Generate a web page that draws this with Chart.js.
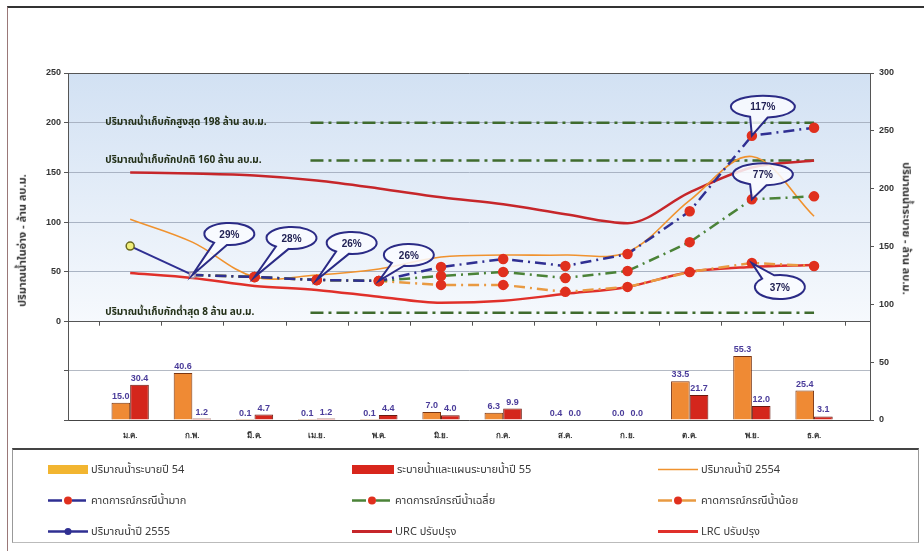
<!DOCTYPE html>
<html>
<head>
<meta charset="utf-8">
<script src="https://cdn.jsdelivr.net/npm/chart.js@4.4.1/dist/chart.umd.min.js"></script>
<style>
  body { margin: 0; background: #fff; width: 924px; height: 551px; position: relative; overflow: hidden;
         font-family: "Noto Sans Thai", Tahoma, "DejaVu Sans", "Noto Sans", sans-serif; }
  #frame { position: absolute; left: 7px; top: 6px; width: 917px; height: 545px;
           border-top: 2px solid #333; border-left: 1px solid #9a7878; }
  #wrap { position: absolute; left: 0; top: 0; width: 924px; height: 450px; }
  .axtitle { position: absolute; font-size: 11px; font-weight: bold; color: #333; white-space: nowrap; }
  #legend { position: absolute; left: 12px; top: 448px; width: 905px; height: 92px;
            border-top: 2px solid #444; border-left: 1px solid #999; border-right: 1px solid #999; border-bottom: 1px solid #bbb; }
  .item { position: absolute; display: flex; align-items: center; font-size: 11px; color: #3a3a3a; white-space: nowrap; }
  .item svg { margin-right: 3px; }
</style>
</head>
<body>
<div id="frame"></div>
<div id="wrap"><canvas id="chart" width="924" height="450"></canvas></div>
<div class="axtitle" id="ltitle">ปริมาณน้ำในอ่าง - ล้าน ลบ.ม.</div>
<div class="axtitle" id="rtitle">ปริมาณน้ำระบาย - ล้าน ลบ.ม.</div>
<div id="legend"></div>
<script>
// months and values
const months = ['ม.ค.', 'ก.พ.', 'มี.ค.', 'เม.ย.', 'พ.ค.', 'มิ.ย.', 'ก.ค.', 'ส.ค.', 'ก.ย.', 'ต.ค.', 'พ.ย.', 'ธ.ค.'];
const release54 = [15.0, 40.6, 0.1, 0.1, 0.1, 7.0, 6.3, 0.4, 0.0, 33.5, 55.3, 25.4];
const release55 = [30.4, 1.2, 4.7, 1.2, 4.4, 4.0, 9.9, 0.0, 0.0, 21.7, 12.0, 3.1];
const storage2554 = [103, 80, 45, 47, 53, 65, 67, 67, 70, 122, 166, 106];
const storage2555 = [76, 47, null, null, null, null, null, null, null, null, null, null];
const forecastHigh = [null, 47, 45, 42, 41, 55, 63, 56, 68, 111, 187, 195];
const forecastAvg = [null, 47, 45, 42, 41, 46, 50, 44, 51, 80, 123, 126];
const forecastLow = [null, 47, 45, 42, 41, 37, 37, 30, 35, 50, 59, 56];
const urc = [150, 149, 147, 142, 134, 125, 118, 108, 99, 130, 155, 162];
const lrc = [49, 44, 36, 32, 25, 19, 21, 28, 35, 50, 55, 57];
const leftTicks = [0, 50, 100, 150, 200, 250];
const rightTicks = [0, 50, 100, 150, 200, 250, 300];

// storage levels: [value, label]
const levels = [
  [200, 'ปริมาณน้ำเก็บกักสูงสุด 198 ล้าน ลบ.ม.'],
  [162, 'ปริมาณน้ำเก็บกักปกติ 160 ล้าน ลบ.ม.'],
  [9, 'ปริมาณน้ำเก็บกักต่ำสุด 8 ล้าน ลบ.ม.']
];
const levelStart = 2.9;

// percentage callouts: dataset key, month index, text
const callouts = [
  ['high', 1, '29%'], ['high', 2, '28%'], ['high', 3, '26%'], ['high', 4, '26%'],
  ['high', 10, '117%'], ['avg', 10, '77%'], ['low', 10, '37%']
];
const calloutStyle = [
  { dx: 37, dy: -41, rx: 25, ry: 11 }, { dx: 37, dy: -39, rx: 25, ry: 11 },
  { dx: 35, dy: -37, rx: 25, ry: 11 }, { dx: 30, dy: -26, rx: 25, ry: 11 },
  { dx: 11, dy: -29, rx: 32, ry: 11 }, { dx: 11, dy: -25, rx: 30, ry: 11 },
  { dx: 28, dy: 24, rx: 25, ry: 12 }
];

const navy = '#2f2f92';
const green = '#4b8338';
const lowOrange = '#e99a42';
const dotRed = '#e0301e';

function fcRadius(arr) {
  return arr.map((v, i) => i < 2 ? 0 : 4);
}

const plotBackground = {
  id: 'plotBackground',
  beforeDraw(chart) {
    const { ctx, chartArea } = chart;
    const ys = chart.scales.y;
    const g = ctx.createLinearGradient(0, ys.top, 0, ys.bottom);
    g.addColorStop(0, '#d2e1f3');
    g.addColorStop(1, '#f6f9fd');
    ctx.save();
    ctx.fillStyle = g;
    ctx.fillRect(chartArea.left, ys.top, chartArea.right - chartArea.left, ys.bottom - ys.top);
    ctx.restore();
  }
};

const decorations = {
  id: 'decorations',
  afterDatasetsDraw(chart) {
    const { ctx } = chart;
    const xs = chart.scales.x;
    const ys = chart.scales.y;
    ctx.save();

    // category tick marks under the upper plot
    ctx.strokeStyle = '#555';
    ctx.lineWidth = 1;
    for (let i = 0; i <= months.length; i++) {
      const px = Math.round(xs.getPixelForValue(i - 0.5)) + 0.5;
      ctx.beginPath();
      ctx.moveTo(px, ys.bottom);
      ctx.lineTo(px, ys.bottom + 4);
      ctx.stroke();
    }

    // storage level labels
    ctx.fillStyle = '#233018';
    ctx.font = 'bold 10px "Noto Sans Thai", Tahoma, "DejaVu Sans", sans-serif';
    ctx.textBaseline = 'alphabetic';
    ctx.textAlign = 'left';
    for (const [v, text] of levels) {
      ctx.fillText(text, xs.getPixelForValue(-0.4), ys.getPixelForValue(v) + 2, 200);
    }

    // bar value labels
    ctx.fillStyle = '#4a3c9a';
    ctx.font = 'bold 9px "Liberation Sans", Arial, sans-serif';
    ctx.textAlign = 'center';
    ctx.textBaseline = 'bottom';
    chart.data.datasets.forEach((ds, di) => {
      if (ds.type !== 'bar') return;
      chart.getDatasetMeta(di).data.forEach((bar, i) => {
        ctx.fillText(ds.data[i].toFixed(1), bar.x, bar.y - 2);
      });
    });

    // callouts
    callouts.forEach(([key, idx, text], n) => {
      const di = chart.data.datasets.findIndex(d => d.key === key);
      const pt = chart.getDatasetMeta(di).data[idx];
      const st = calloutStyle[n];
      const cx = pt.x + st.dx, cy = pt.y + st.dy;
      const th = Math.atan2(-st.dy / st.ry, -st.dx / st.rx);
      const d = 0.28;
      ctx.beginPath();
      ctx.ellipse(cx, cy, st.rx, st.ry, 0, th + d, th - d + Math.PI * 2);
      ctx.lineTo(pt.x, pt.y);
      ctx.closePath();
      ctx.fillStyle = 'rgba(250,252,255,0.85)';
      ctx.fill();
      ctx.strokeStyle = '#2b2b86';
      ctx.lineWidth = 2;
      ctx.stroke();
      ctx.fillStyle = '#222255';
      ctx.font = 'bold 10px "Liberation Sans", Arial, sans-serif';
      ctx.textAlign = 'center';
      ctx.textBaseline = 'middle';
      ctx.fillText(text, cx, cy + 1);
    });
    ctx.restore();
  }
};

const lineBase = { type: 'line', yAxisID: 'y', fill: false, pointHoverRadius: 0 };

const datasets = [
  Object.assign({}, lineBase, {
    key: 'y2555', label: 'ปริมาณน้ำปี 2555', data: storage2555, borderColor: navy, borderWidth: 2,
    pointRadius: [4, 3], pointBackgroundColor: ['#f0ee7a', '#f4e2e6'], pointBorderColor: ['#6b6a22', '#a494a8'],
    pointBorderWidth: 1.5, tension: 0
  }),
  Object.assign({}, lineBase, {
    key: 'high', label: 'คาดการณ์กรณีน้ำมาก', data: forecastHigh, borderColor: navy, borderWidth: 2.5,
    borderDash: [11, 5, 2, 5], pointRadius: fcRadius(forecastHigh), pointBackgroundColor: dotRed,
    pointBorderColor: dotRed, tension: 0
  }),
  Object.assign({}, lineBase, {
    key: 'avg', label: 'คาดการณ์กรณีน้ำเฉลี่ย', data: forecastAvg, borderColor: green, borderWidth: 2.5,
    borderDash: [11, 5, 2, 5], pointRadius: fcRadius(forecastAvg), pointBackgroundColor: dotRed,
    pointBorderColor: dotRed, tension: 0
  }),
  Object.assign({}, lineBase, {
    key: 'low', label: 'คาดการณ์กรณีน้ำน้อย', data: forecastLow, borderColor: lowOrange, borderWidth: 2.5,
    borderDash: [11, 5, 2, 5], pointRadius: fcRadius(forecastLow), pointBackgroundColor: dotRed,
    pointBorderColor: dotRed, tension: 0
  }),
  Object.assign({}, lineBase, {
    key: 'y2554', label: 'ปริมาณน้ำปี 2554', data: storage2554, borderColor: '#f0922e', borderWidth: 1.6,
    pointRadius: 0, tension: 0.35
  }),
  Object.assign({}, lineBase, {
    key: 'urc', label: 'URC ปรับปรุง', data: urc, borderColor: '#c6262a', borderWidth: 2.5,
    pointRadius: 0, cubicInterpolationMode: 'monotone'
  }),
  Object.assign({}, lineBase, {
    key: 'lrc', label: 'LRC ปรับปรุง', data: lrc, borderColor: '#e0302a', borderWidth: 2.5,
    pointRadius: 0, cubicInterpolationMode: 'monotone'
  })
];

levels.forEach(([v], i) => {
  datasets.push(Object.assign({}, lineBase, {
    key: 'level' + i, label: '', data: [{ x: levelStart, y: v }, { x: months.length - 1, y: v }],
    borderColor: '#3f6b2e', borderWidth: 2.5, borderDash: [13, 5, 3, 5], pointRadius: 0
  }));
});

datasets.push({
  type: 'bar', key: 'r54', label: 'ปริมาณน้ำระบายปี 54', data: release54, yAxisID: 'y2',
  backgroundColor: '#ef8a34', borderColor: '#7a3612', borderWidth: 1, barPercentage: 1, categoryPercentage: 0.6
});
datasets.push({
  type: 'bar', key: 'r55', label: 'ระบายน้ำและแผนระบายน้ำปี 55', data: release55, yAxisID: 'y2',
  backgroundColor: '#d4261c', borderColor: '#6a1a10', borderWidth: 1, barPercentage: 1, categoryPercentage: 0.6
});

const tickFont = { size: 9, weight: 'bold', family: '"Liberation Sans", Arial, sans-serif' };

const chart = new Chart(document.getElementById('chart'), {
  type: 'bar',
  data: { labels: months.map((m, i) => i), datasets: datasets },
  options: {
    responsive: false,
    animation: false,
    layout: { padding: { top: 73, left: 0, right: 0, bottom: 0 } },
    plugins: { legend: { display: false }, tooltip: { enabled: false } },
    scales: {
      x: {
        type: 'linear', min: -1, max: 11.9, offset: false,
        grid: { display: false },
        border: { color: '#444' },
        ticks: { font: { size: 8, weight: 'bold' }, color: '#333', padding: 3,
                 callback: (v) => months[v] === undefined ? '' : months[v] },
        afterBuildTicks: (s) => { s.ticks = months.map((m, i) => ({ value: i })); },
        afterFit: (s) => { s.height = 30; }
      },
      y: {
        position: 'left', stack: 'left', stackWeight: 248, weight: 1,
        min: 0, max: 250,
        afterBuildTicks: (s) => { s.ticks = leftTicks.map(v => ({ value: v })); },
        ticks: { font: tickFont, color: '#333', padding: 3 },
        grid: { color: (c) => (c.tick.value === 0 || c.tick.value === 250) ? '#555' : '#a9b3c3',
                tickLength: 4, tickColor: '#555' },
        border: { color: '#555' },
        afterFit: (s) => { s.width = 68; }
      },
      yb: {
        position: 'left', stack: 'left', stackWeight: 98, weight: 0,
        min: 0, max: 2,
        ticks: { stepSize: 1, display: false },
        grid: { color: (c) => c.tick.value === 2 ? '#555' : '#b4bac4', tickLength: 4, tickColor: '#555' },
        border: { color: '#555' },
        afterFit: (s) => { s.width = 68; }
      },
      y2: {
        position: 'right', min: 0, max: 300,
        afterBuildTicks: (s) => { s.ticks = rightTicks.map(v => ({ value: v })); },
        ticks: { font: tickFont, color: '#333', padding: 5 },
        grid: { drawOnChartArea: false, tickLength: 4, tickColor: '#555' },
        border: { color: '#555' },
        afterFit: (s) => { s.width = 54; }
      }
    }
  },
  plugins: [plotBackground, decorations]
});

// axis titles placed beside the axes
const lt = document.getElementById('ltitle');
lt.style.left = (22 - lt.offsetWidth / 2) + 'px';
lt.style.top = (240 - lt.offsetHeight / 2) + 'px';
lt.style.transform = 'rotate(-90deg)';
const rt = document.getElementById('rtitle');
rt.style.left = (906 - rt.offsetWidth / 2) + 'px';
rt.style.top = (228 - rt.offsetHeight / 2) + 'px';
rt.style.transform = 'rotate(90deg)';

// legend: three columns, three rows
const legendItems = [
  { key: 'r54', kind: 'box', color: '#f2b530', w: 40 },
  { key: 'r55', kind: 'box', color: '#d8261c', w: 42 },
  { key: 'y2554', kind: 'line', color: '#f0922e', w: 40, lw: 1.5 },
  { key: 'high', kind: 'dash', color: navy, w: 40 },
  { key: 'avg', kind: 'dash', color: green, w: 40 },
  { key: 'low', kind: 'dash', color: lowOrange, w: 40 },
  { key: 'y2555', kind: 'dot', color: navy, w: 40 },
  { key: 'urc', kind: 'line', color: '#c6262a', w: 40, lw: 3 },
  { key: 'lrc', kind: 'line', color: '#e0302a', w: 40, lw: 3 }
];
const colX = [35, 339, 645];
const rowY = [18, 49, 80];
const legend = document.getElementById('legend');
legendItems.forEach((it, n) => {
  const ds = datasets.find(d => d.key === it.key);
  let svg = '';
  const w = it.w;
  if (it.kind === 'box') {
    svg = `<rect x="0" y="1" width="${w}" height="9" fill="${it.color}"/>`;
  } else if (it.kind === 'line') {
    svg = `<line x1="0" y1="5.5" x2="${w}" y2="5.5" stroke="${it.color}" stroke-width="${it.lw}"/>`;
  } else if (it.kind === 'dash') {
    svg = `<line x1="0" y1="5.5" x2="${w}" y2="5.5" stroke="${it.color}" stroke-width="2.5" stroke-dasharray="14 4 2 4"/>` +
          `<circle cx="${w / 2}" cy="5.5" r="4" fill="${dotRed}"/>`;
  } else {
    svg = `<line x1="0" y1="5.5" x2="${w}" y2="5.5" stroke="${it.color}" stroke-width="2.5"/>` +
          `<circle cx="${w / 2}" cy="5.5" r="3.5" fill="${it.color}"/>`;
  }
  const div = document.createElement('div');
  div.className = 'item';
  div.style.left = colX[n % 3] + 'px';
  div.style.top = (rowY[Math.floor(n / 3)] - 7) + 'px';
  div.innerHTML = `<svg width="${w}" height="11">${svg}</svg><span>${ds.label}</span>`;
  legend.appendChild(div);
});
</script>
</body>
</html>
